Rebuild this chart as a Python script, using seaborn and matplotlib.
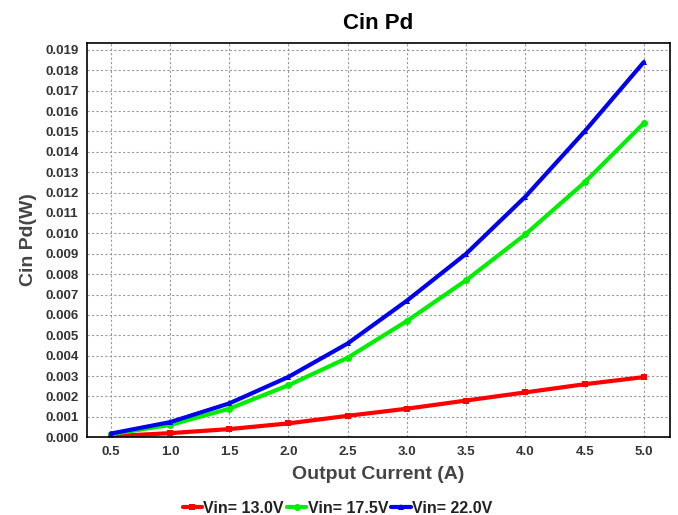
import matplotlib
matplotlib.use("Agg")
import matplotlib.pyplot as plt
import seaborn as sns
import pandas as pd

current = [0.5, 1.0, 1.5, 2.0, 2.5, 3.0, 3.5, 4.0, 4.5, 5.0]
pd_13v = [0.00005, 0.0002, 0.0004, 0.00068, 0.00105, 0.0014, 0.0018, 0.0022, 0.0026, 0.00295]
pd_17v5 = [0.00015, 0.0006, 0.0014, 0.00255, 0.0039, 0.0057, 0.0077, 0.00995, 0.0125, 0.0154]
pd_22v = [0.00018, 0.00074, 0.00166, 0.00296, 0.0046, 0.0067, 0.0090, 0.0118, 0.0150, 0.0184]
series_names = ["Vin= 13.0V", "Vin= 17.5V", "Vin= 22.0V"]

df = pd.DataFrame({"current": current * 3,
                   "pd": pd_13v + pd_17v5 + pd_22v,
                   "series": [n for n in series_names for _ in current]})

sns.set_style("white")
plt.rcParams["font.family"] = ["Liberation Sans", "DejaVu Sans"]

fig, ax = plt.subplots(figsize=(6.78, 5.15), dpi=100)
fig.subplots_adjust(left=0.128, right=0.988, top=0.917, bottom=0.151)

palette = {"Vin= 13.0V": "#ff0000", "Vin= 17.5V": "#00ee00", "Vin= 22.0V": "#0000ee"}
markers = {"Vin= 13.0V": "s", "Vin= 17.5V": "o", "Vin= 22.0V": "^"}
sns.lineplot(data=df, x="current", y="pd", hue="series", style="series",
             palette=palette, markers=markers, dashes=False, linewidth=3,
             markersize=5, markeredgewidth=0, ax=ax)

ax.set_xlim(0.297, 5.22)
ax.set_ylim(0, 0.01935)
ax.set_xticks(current)
ax.set_xticklabels([f"{v:.1f}" for v in current])
yt = [i / 1000 for i in range(20)]
ax.set_yticks(yt)
ax.set_yticklabels([f"{v:.3f}" for v in yt])
ax.grid(True, color="#999999", linestyle=(0, (2, 2)), linewidth=0.8)
for s in ax.spines.values():
    s.set_color("black")
    s.set_linewidth(1.2)
ax.tick_params(axis="both", labelsize=9.5, colors="#333333", length=0, pad=6)
for lab in ax.get_xticklabels() + ax.get_yticklabels():
    lab.set_fontweight("bold")
ax.set_xlabel("Output Current (A)", fontsize=14, fontweight="bold", color="#444444", labelpad=6)
ax.set_ylabel("Cin Pd(W)", fontsize=14, fontweight="bold", color="#444444", labelpad=6)
ax.set_title("Cin Pd", fontsize=16, fontweight="bold", color="black", pad=10)

handles, labels = ax.get_legend_handles_labels()
leg = ax.legend(handles, labels, loc="upper center", bbox_to_anchor=(0.43, -0.125),
                ncol=3, frameon=False, handlelength=1.2, handletextpad=0.1,
                columnspacing=0.2, prop={"weight": "bold", "size": 11.5})
for t in leg.get_texts():
    t.set_color("#222222")

fig.savefig("out.png", dpi=100)
